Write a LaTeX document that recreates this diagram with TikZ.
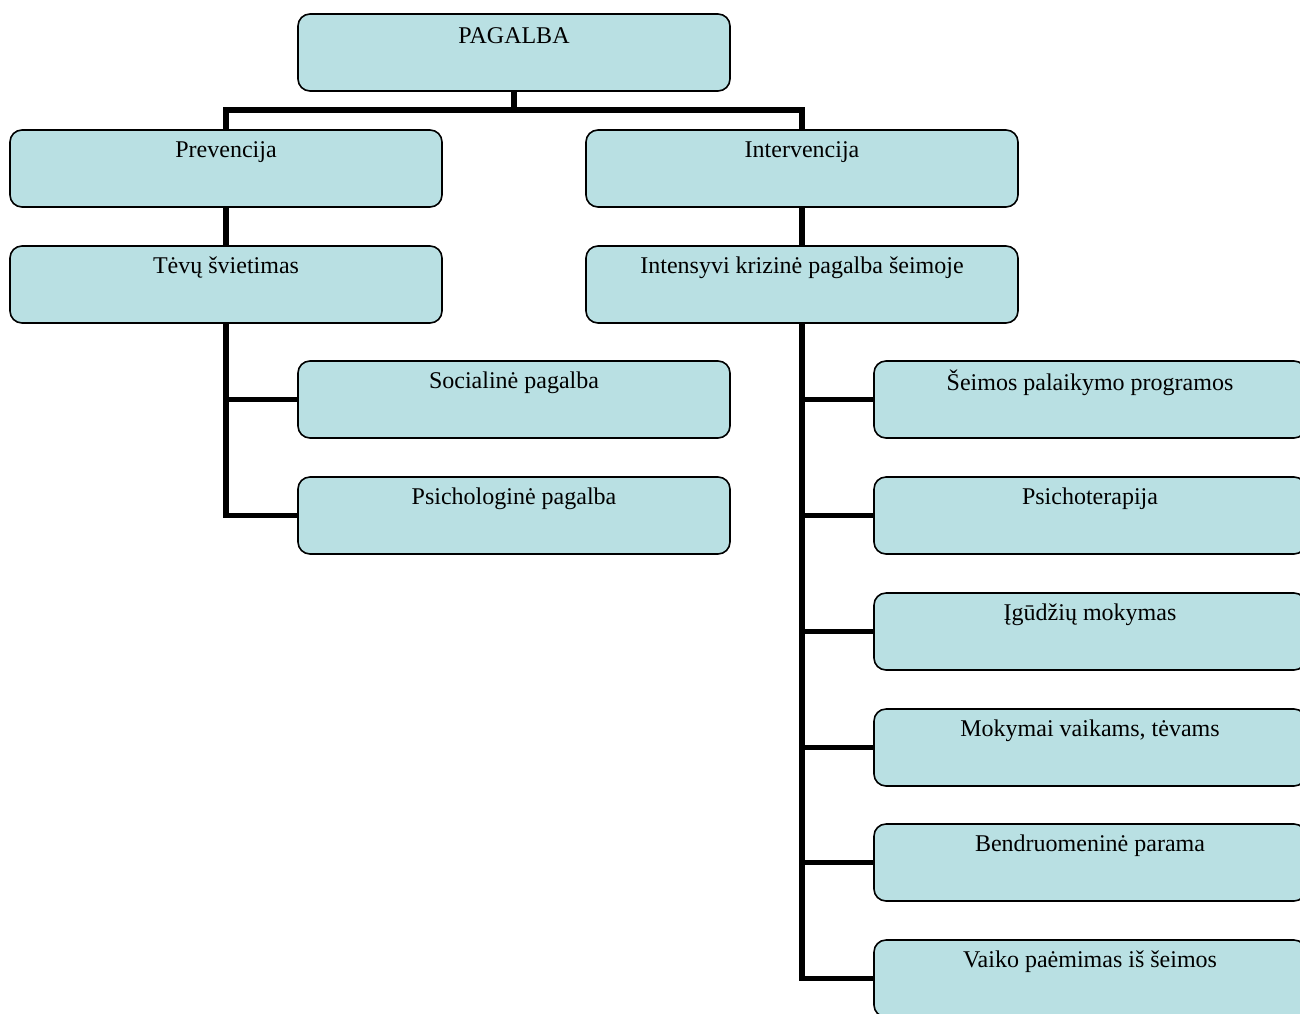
\documentclass[tikz,border=0pt]{standalone}
\usepackage{fontspec}
\setmainfont{Liberation Serif}
\definecolor{boxfill}{RGB}{185,224,227}
\tikzset{
  box/.style={draw=black, fill=boxfill, line width=0.8pt, rounded corners=6pt,
    minimum width=216pt, minimum height=38.5pt, inner sep=0pt, outer sep=0pt, anchor=north west},
  txt/.style={font=\fontsize{12pt}{14pt}\selectfont, inner sep=0pt, anchor=center},
  conn/.style={draw=black, line width=2.6pt}
}
\begin{document}
\begin{tikzpicture}[x=0.5pt,y=-0.5pt]
\useasboundingbox (0,0) rectangle (1300,1013);
\clip (0,0) rectangle (1300,1013);
\coordinate (j) at (514,110);
% boxes
\node[box] (top) at (298,14) {};
\node[box] (prev) at (10,130) {};
\node[box] (interv) at (586,130) {};
\node[box] (tevu) at (10,246) {};
\node[box] (intens) at (586,246) {};
\node[box] (soc) at (298,361) {};
\node[box] (psi) at (298,477) {};
\node[box] (r1) at (874,361) {};
\node[box] (r2) at (874,477) {};
\node[box] (r3) at (874,593) {};
\node[box] (r4) at (874,709) {};
\node[box] (r5) at (874,824) {};
\node[box] (r6) at (874,940) {};
% connectors
\draw[conn] (top.south) -- (j);
\draw[conn] (prev.north) |- (j) -| (interv.north);
\draw[conn] (prev.south) -- (tevu.north);
\draw[conn] (interv.south) -- (intens.north);
\draw[conn] (tevu.south) |- (soc.west);
\draw[conn] (tevu.south) |- (psi.west);
\foreach \r in {r1,r2,r3,r4,r5,r6}{
  \draw[conn] (intens.south) |- (\r.west);
}
% texts
\node[txt] (ttop) at ([yshift=-11pt]top.north) {PAGALBA};
\node[txt] (tprev) at ([yshift=-11pt]prev.north) {Prevencija};
\node[txt] (tinterv) at ([yshift=-11pt]interv.north) {Intervencija};
\node[txt] (ttevu) at ([yshift=-11pt]tevu.north) {Tėvų švietimas};
\node[txt] (tintens) at ([yshift=-11pt]intens.north) {Intensyvi krizinė pagalba šeimoje};
\node[txt] (tsoc) at ([yshift=-11pt]soc.north) {Socialinė pagalba};
\node[txt] (tpsi) at ([yshift=-11pt]psi.north) {Psichologinė pagalba};
\node[txt] (tr1) at ([yshift=-11pt]r1.north) {Šeimos palaikymo programos};
\node[txt] (tr2) at ([yshift=-11pt]r2.north) {Psichoterapija};
\node[txt] (tr3) at ([yshift=-11pt]r3.north) {Įgūdžių mokymas};
\node[txt] (tr4) at ([yshift=-11pt]r4.north) {Mokymai vaikams, tėvams};
\node[txt] (tr5) at ([yshift=-11pt]r5.north) {Bendruomeninė parama};
\node[txt] (tr6) at ([yshift=-11pt]r6.north) {Vaiko paėmimas iš šeimos};
\end{tikzpicture}
\end{document}
